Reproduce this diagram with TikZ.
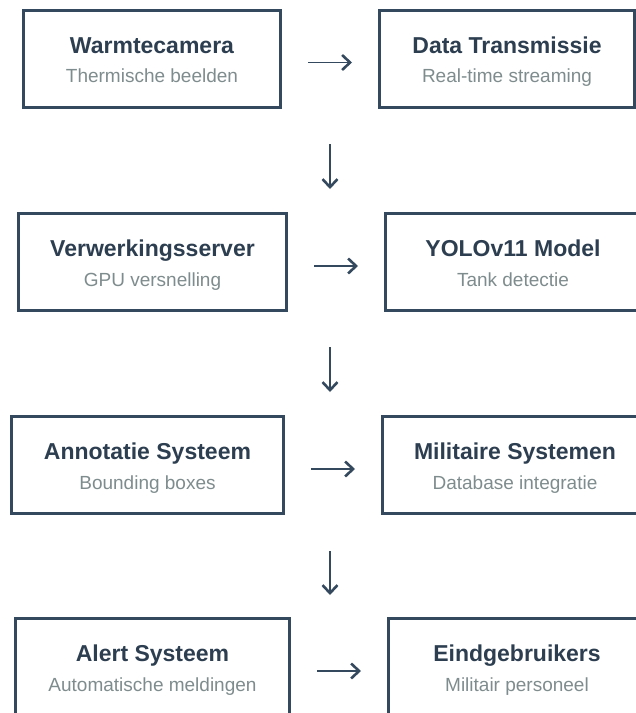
\documentclass[tikz,border=0pt]{standalone}
\usepackage{fontspec}
\setmainfont{Liberation Sans}
\usetikzlibrary{arrows.meta}
\definecolor{slate}{HTML}{34495E}
\definecolor{ink}{HTML}{2C3E50}
\definecolor{muted}{HTML}{7F8C8D}
\tikzset{
  stage/.style = {draw=#1, line width=3pt, fill=white, minimum height=97pt, inner sep=0pt, align=center, text=muted, font=\fontsize{19}{29.5}\selectfont},
  flow/.style = {color=#1, line width=1.8pt, -{Straight Barb[length=8pt,width=15pt,line width=2.6pt]}},
  link/.style = {flow={#1}, shorten <=26pt, shorten >=26pt}
}
\newcommand{\stagetext}[2]{%
  % #1: titel (vet)
  % #2: ondertitel (grijs)
  {\color{ink}\fontsize{23}{28}\selectfont\bfseries\rule{0pt}{23pt}#1}\\\rule[-4pt]{0pt}{4pt}#2%
}

\begin{document}
\begin{tikzpicture}[x=1pt,y=-1pt]
    \useasboundingbox (0,0) rectangle (636,713);
    \clip (0,0) rectangle (636,713);

    %==== Row 1 ====
    \node[stage={slate}, minimum width=257] (cam) at (152,58.5) {\stagetext{Warmtecamera}{Thermische beelden}};
    \node[stage={slate}, minimum width=255] (trans) at (507,58.5) {\stagetext{Data Transmissie}{Real-time streaming}};
    \draw[link={slate}] ([yshift=-4pt]cam.east) -- ([yshift=-4pt]trans.west);

    % Down arrow
    \coordinate (d1) at (330,144);
    \coordinate (d1e) at (330,189);
    \draw[flow={slate}] (d1) -- (d1e);

    %==== Row 2 ====
    \node[stage={slate}, minimum width=268] (server) at (152.5,262) {\stagetext{Verwerkingsserver}{GPU versnelling}};
    \node[stage={slate}, minimum width=255] (yolo) at (513,262) {\stagetext{YOLOv11 Model}{Tank detectie}};
    \draw[link={slate}] ([yshift=-4pt]server.east) -- ([yshift=-4pt]yolo.west);

    % Down arrow
    \coordinate (d2) at (330,347);
    \coordinate (d2e) at (330,392);
    \draw[flow={slate}] (d2) -- (d2e);

    %==== Row 3 ====
    \node[stage={slate}, minimum width=272] (annot) at (147.5,465) {\stagetext{Annotatie Systeem}{Bounding boxes}};
    \node[stage={slate}, minimum width=265] (mil) at (515,465) {\stagetext{Militaire Systemen}{Database integratie}};
    \draw[link={slate}] ([yshift=-4pt]annot.east) -- ([yshift=-4pt]mil.west);

    % Down arrow
    \coordinate (d3) at (330,551);
    \coordinate (d3e) at (330,595);
    \draw[flow={slate}] (d3) -- (d3e);

    %==== Row 4 ====
    \node[stage={slate}, minimum width=274] (alert) at (152.5,667) {\stagetext{Alert Systeem}{Automatische meldingen}};
    \node[stage={slate}, minimum width=257] (users) at (517,667) {\stagetext{Eindgebruikers}{Militair personeel}};
    \draw[link={slate}] ([yshift=-4pt]alert.east) -- ([yshift=-4pt]users.west);

\end{tikzpicture}
\end{document}
